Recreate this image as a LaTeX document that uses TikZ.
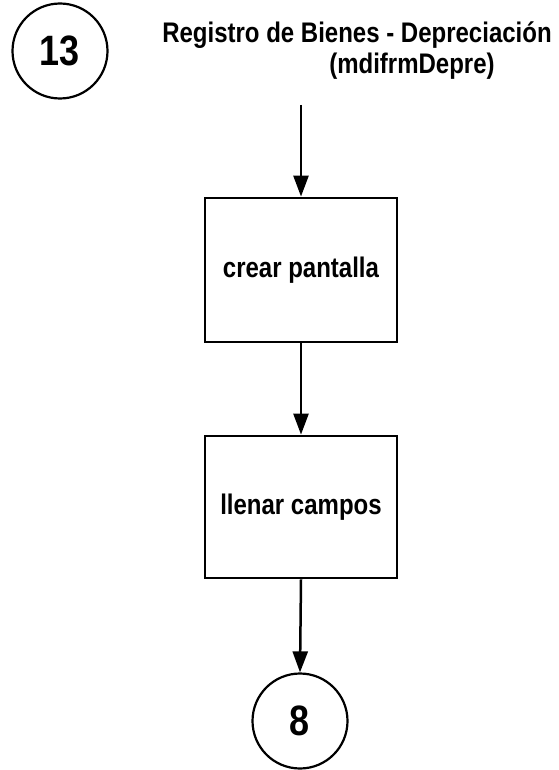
\documentclass[tikz,border=0pt]{standalone}
\usepackage{fontspec}
\usepackage{graphicx}
\setmainfont{Liberation Sans}
\usetikzlibrary{arrows.meta}
% tall, slightly condensed lettering
\newcommand{\tall}[1]{\scalebox{1}[1.18]{#1}}
\tikzset{
  lbl/.style={font=\fontsize{24}{28}\selectfont\bfseries, inner sep=0pt},
  connector/.style={draw, circle, line width=2.2pt, minimum size=95pt, inner sep=0pt,
                    font=\fontsize{36}{40}\selectfont\bfseries},
  stepbox/.style={draw, rectangle, line width=2.8pt, minimum width=192pt, inner sep=0pt,
                  font=\fontsize{24}{28}\selectfont\bfseries},
  flow/.style={line width=2.5pt, -{Triangle[length=21pt,width=15pt]}}
}
\begin{document}
\begin{tikzpicture}[x=1pt, y=-1pt]
  \useasboundingbox (0,0) rectangle (558,770);
  \fill[white] (0,0) rectangle (558,770);

  % off-page connectors
  \node[connector] (c13) at (60,51) {\tall{13}};
  \node[connector] (c8) at (300,721) {\tall{8}};

  % heading
  \node[lbl, anchor=base] (title) at (357,43) {\tall{Registro de Bienes - Depreciación}};
  \node[lbl, anchor=base] (sub) at (412,74) {\tall{(mdifrmDepre)}};

  % process steps
  \node[stepbox, minimum height=144pt] (s1) at (301,270) {\tall{crear pantalla}};
  \node[stepbox, minimum height=142pt] (s2) at (301,507) {\tall{llenar campos}};

  % flow
  \coordinate (entry) at (301,105);
  \draw[flow] (entry) -- (s1.north);
  \draw[flow] (s1.south) -- (s2.north);
  \draw[flow] (s2.south) -- (c8.north);
\end{tikzpicture}
\end{document}
